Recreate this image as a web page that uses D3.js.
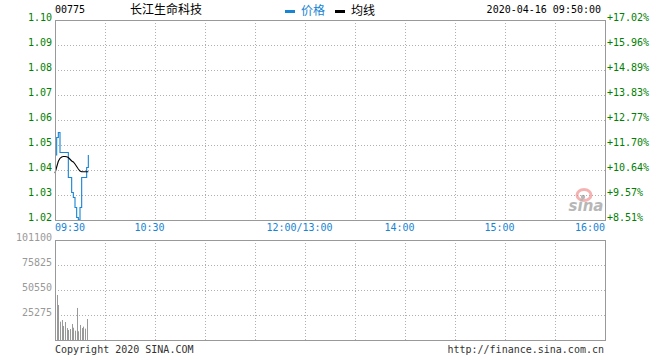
<!DOCTYPE html>
<html>
<head>
<meta charset="utf-8">
<script src="https://cdn.jsdelivr.net/npm/d3@7/dist/d3.min.js"></script>
<style>
html,body{margin:0;padding:0;background:#fff;}
svg{display:block;}
</style>
</head>
<body>
<svg id="chart" width="660" height="360"></svg>
<script>
// ---- data ----
const stockCode = "00775";
const stockName = "长江生命科技";
const dateTime = "2020-04-16 09:50:00";
const times = ["09:30","09:31","09:32","09:33","09:34","09:35","09:36","09:37","09:38","09:39","09:40",
               "09:41","09:42","09:43","09:44","09:45","09:46","09:47","09:48","09:49","09:50"];
const prices = [1.046,1.053,1.055,1.047,1.047,1.047,1.047,1.047,1.037,1.037,1.031,
                1.029,1.025,1.021,1.020,1.025,1.037,1.037,1.037,1.041,1.046];
const avgPrices = [1.0387,1.0412,1.0435,1.0447,1.0452,1.0454,1.0454,1.0453,1.0450,1.0443,1.0436,
                   1.0432,1.0424,1.0414,1.0404,1.0396,1.0393,1.0393,1.0393,1.0393,1.0393];
const volTimes = ["09:31","09:32","09:33","09:34","09:35","09:36","09:37","09:38","09:39","09:40",
                  "09:41","09:42","09:43","09:44","09:45","09:46","09:47","09:48","09:49"];
const volumes = [45500,35400,18500,20200,14200,18200,12100,10100,11100,16200,
                 12400,9400,32400,8800,15200,12100,13500,11500,21200];
const priceTicks = [1.10,1.09,1.08,1.07,1.06,1.05,1.04,1.03,1.02];
const percentLabels = ["+17.02%","+15.96%","+14.89%","+13.83%","+12.77%","+11.70%","+10.64%","+9.57%","+8.51%"];
const volTicks = [101100,75825,50550,25275];
const timeTickLabels = ["09:30","10:30","12:00/13:00","14:00","15:00","16:00"];
const timeTickMinutes = [0,60,150,210,270,330];
const gridMinutes = [30,60,90,120,150,180,210,240,270,300];
const legendItems = [{name:"价格", color:"#1784d4", text:"#1784d4"},{name:"均线", color:"#000000", text:"#000000"}];

// ---- helpers ----
function toMinute(t){
  const [h,m] = t.split(":").map(Number);
  let mins = h*60+m - (9*60+30);
  if (h >= 13) mins -= 60;
  return mins;
}

const svg = d3.select("#chart");
const mono = "'DejaVu Sans Mono','Liberation Mono',monospace";
const cjk = "'Noto Sans CJK SC','Noto Sans',sans-serif";

const x = d3.scaleLinear().domain([0,330]).range([55,605]);
const y = d3.scaleLinear().domain([1.02,1.10]).range([220,20]);
const yv = d3.scaleLinear().domain([0,101100]).range([340,240]);

const gridColor = "#b0b0b0";
const frameColor = "#999999";

// ---- price panel grid ----
const g = svg.append("g");
g.selectAll(".hg").data(priceTicks.slice(1,-1)).enter().append("line")
  .attr("x1",x(0)).attr("x2",x(330))
  .attr("y1",d=>Math.round(y(d))+0.5).attr("y2",d=>Math.round(y(d))+0.5)
  .attr("stroke",gridColor).attr("stroke-dasharray","1,2");
g.selectAll(".vg").data(gridMinutes).enter().append("line")
  .attr("x1",d=>Math.round(x(d))+0.5).attr("x2",d=>Math.round(x(d))+0.5)
  .attr("y1",y(1.10)).attr("y2",y(1.02))
  .attr("stroke",gridColor).attr("stroke-dasharray","1,2");

// volume panel grid
g.selectAll(".hvg").data(volTicks.slice(1)).enter().append("line")
  .attr("x1",x(0)).attr("x2",x(330))
  .attr("y1",d=>Math.round(yv(d))+0.5).attr("y2",d=>Math.round(yv(d))+0.5)
  .attr("stroke",gridColor).attr("stroke-dasharray","1,2");
g.selectAll(".vvg").data(gridMinutes).enter().append("line")
  .attr("x1",d=>Math.round(x(d))+0.5).attr("x2",d=>Math.round(x(d))+0.5)
  .attr("y1",yv(101100)).attr("y2",yv(0))
  .attr("stroke",gridColor).attr("stroke-dasharray","1,2");

// ---- sina watermark ----
const wm = svg.append("g").attr("opacity",0.6);
wm.append("ellipse").attr("cx",584).attr("cy",195).attr("rx",7).attr("ry",5.5)
  .attr("fill","none").attr("stroke","#f08080").attr("stroke-width",3);
wm.append("circle").attr("cx",583).attr("cy",197).attr("r",2.2).attr("fill","#888");
wm.append("text").attr("x",586).attr("y",211).attr("text-anchor","middle")
  .attr("font-family","'DejaVu Sans',sans-serif").attr("font-size",15).attr("font-weight","bold")
  .attr("font-style","italic").attr("fill","#888").text("sina");

// ---- volume bars ----
svg.append("g").selectAll("line").data(volTimes.map((t,i)=>({m:toMinute(t),v:volumes[i]}))).enter().append("line")
  .attr("x1",d=>Math.round(x(d.m))+0.5).attr("x2",d=>Math.round(x(d.m))+0.5)
  .attr("y1",yv(0)).attr("y2",d=>yv(d.v))
  .attr("stroke","#999999").attr("stroke-width",1);

// ---- lines ----
const priceData = times.map((t,i)=>({m:toMinute(t),p:prices[i],a:avgPrices[i]}));
const priceLine = d3.line().x(d=>x(d.m)).y(d=>y(d.p)).curve(d3.curveStepAfter);
const avgLine = d3.line().x(d=>x(d.m)).y(d=>y(d.a));
svg.append("path").datum(priceData).attr("d",priceLine)
  .attr("fill","none").attr("stroke","#1784d4").attr("stroke-width",1.1);
svg.append("path").datum(priceData).attr("d",avgLine)
  .attr("fill","none").attr("stroke","#000").attr("stroke-width",1.1);

// ---- frames ----
svg.append("rect").attr("x",55.5).attr("y",20.5).attr("width",550).attr("height",200)
  .attr("fill","none").attr("stroke",frameColor);
svg.append("rect").attr("x",55.5).attr("y",240.5).attr("width",550).attr("height",100)
  .attr("fill","none").attr("stroke",frameColor);

// ---- axis labels ----
svg.append("g").selectAll("text").data(priceTicks).enter().append("text")
  .attr("x",52).attr("y",d=>y(d)+0.5).attr("text-anchor","end")
  .attr("font-family",mono).attr("font-size",10).attr("fill","#008000")
  .text(d=>d.toFixed(2));
svg.append("g").selectAll("text").data(priceTicks).enter().append("text")
  .attr("x",607).attr("y",d=>y(d)+1).attr("text-anchor","start")
  .attr("font-family",mono).attr("font-size",10).attr("fill","#008000")
  .text((d,i)=>percentLabels[i]);
svg.append("g").selectAll("text").data(volTicks).enter().append("text")
  .attr("x",52).attr("y",d=>yv(d)+0.5).attr("text-anchor","end")
  .attr("font-family",mono).attr("font-size",10).attr("fill","#999999")
  .text(d=>d);
svg.append("g").selectAll("text").data(timeTickMinutes).enter().append("text")
  .attr("x",(d,i)=> i===0 ? x(d) : (i===timeTickMinutes.length-1 ? x(d) : x(d)-5.5))
  .attr("y",231)
  .attr("text-anchor",(d,i)=> i===0 ? "start" : (i===timeTickMinutes.length-1 ? "end" : "middle"))
  .attr("font-family",mono).attr("font-size",10).attr("fill","#1784d4")
  .text((d,i)=>timeTickLabels[i]);

// ---- header ----
svg.append("text").attr("x",55).attr("y",13).attr("font-family",mono).attr("font-size",10)
  .attr("fill","#000").text(stockCode);
svg.append("text").attr("x",130).attr("y",14).attr("font-family",cjk).attr("font-size",12)
  .attr("fill","#000").text(stockName);
const lg = svg.append("g");
legendItems.forEach((it,i)=>{
  const lx = 285 + i*50;
  lg.append("rect").attr("x",lx).attr("y",10).attr("width",10).attr("height",3).attr("fill",it.color);
  lg.append("text").attr("x",lx+16).attr("y",15).attr("font-family",cjk).attr("font-size",12)
    .attr("fill",it.text).text(it.name);
});
svg.append("text").attr("x",601).attr("y",13).attr("text-anchor","end").attr("font-family",mono)
  .attr("font-size",10).attr("fill","#000").text(dateTime);

// ---- footer ----
svg.append("text").attr("x",55).attr("y",353).attr("font-family",mono).attr("font-size",10)
  .attr("fill","#333").text("Copyright 2020 SINA.COM");
svg.append("text").attr("x",604).attr("y",353).attr("text-anchor","end").attr("font-family",mono)
  .attr("font-size",10).attr("fill","#333").text("http://finance.sina.com.cn");
</script>
</body>
</html>
